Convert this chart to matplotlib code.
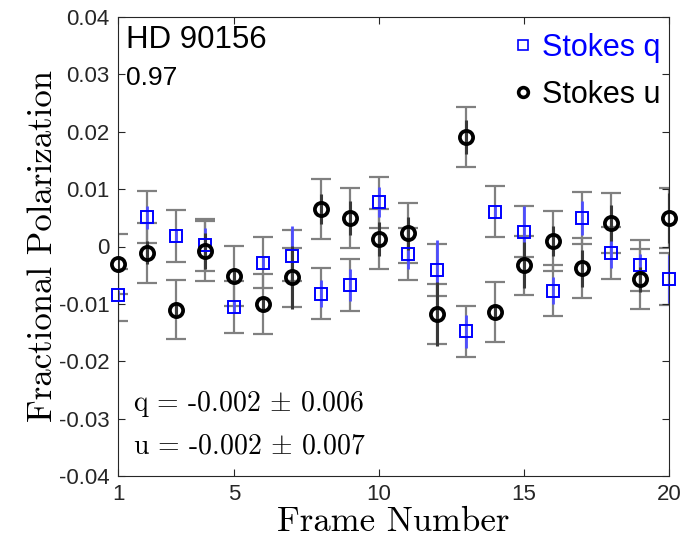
import matplotlib
matplotlib.use("Agg")
import matplotlib.pyplot as plt
from matplotlib.lines import Line2D

# ---- data ----
frames = list(range(1, 21))
q_vals = [-0.0085, 0.0051, 0.0018, 0.0003, -0.0105, -0.0028, -0.0016, -0.0082, -0.0067, 0.0077,
          -0.0013, -0.0041, -0.0148, 0.0061, 0.0026, -0.0077, 0.0050, -0.0011, -0.0033, -0.0057]
u_vals = [-0.0030, -0.0011, -0.0110, -0.0008, -0.0051, -0.0100, -0.0054, 0.0065, 0.0050, 0.0013,
          0.0023, -0.0118, 0.0191, -0.0114, -0.0033, 0.0010, -0.0038, 0.0041, -0.0057, 0.0050]
q_err_total = [0.0045] * 20
u_err_total = [0.0052] * 20
q_err_inner = [0.0010, 0.0020, 0.0010, 0.0029, 0.0010, 0.0010, 0.0052, 0.0023, 0.0028, 0.0026,
               0.0027, 0.0052, 0.0029, 0.0010, 0.0044, 0.0023, 0.0030, 0.0026, 0.0020, 0.0042]
u_err_inner = [0.0010, 0.0020, 0.0010, 0.0032, 0.0010, 0.0010, 0.0055, 0.0026, 0.0030, 0.0029,
               0.0029, 0.0056, 0.0030, 0.0010, 0.0040, 0.0026, 0.0032, 0.0032, 0.0022, 0.0044]
x_ticks = [1, 5, 10, 15, 20]
y_ticks = [-0.04, -0.03, -0.02, -0.01, 0, 0.01, 0.02, 0.03, 0.04]
y_ticklabels = ["-0.04", "-0.03", "-0.02", "-0.01", "0", "0.01", "0.02", "0.03", "0.04"]
star_name = "HD 90156"
fit_value = "0.97"
q_summary = r"q = -0.002 $\pm$ 0.006"
u_summary = r"u = -0.002 $\pm$ 0.007"

plt.rcParams['mathtext.fontset'] = 'cm'

fig = plt.figure(figsize=(6.85, 5.5), dpi=100)
ax = fig.add_axes([118/685, 1-476/550, (669-118)/685, (476-17)/550])

gray = (0.5, 0.5, 0.5)
# total (grey) error bars with caps
ax.errorbar(frames, q_vals, yerr=q_err_total, fmt='none', ecolor=gray, elinewidth=1.6,
            capsize=7, capthick=1.6, zorder=1)
ax.errorbar(frames, u_vals, yerr=u_err_total, fmt='none', ecolor=gray, elinewidth=1.6,
            capsize=7, capthick=1.6, zorder=1)
# inner error bars without caps
ax.errorbar(frames, q_vals, yerr=q_err_inner, fmt='none', ecolor=(0.3, 0.3, 1.0), elinewidth=2.0,
            capsize=0, zorder=2)
ax.errorbar(frames, u_vals, yerr=u_err_inner, fmt='none', ecolor=(0.22, 0.22, 0.22), elinewidth=2.2,
            capsize=0, zorder=2)
# markers
ax.plot(frames, q_vals, linestyle='none', marker='s', ms=9, mfc='none', mec='blue', mew=1.4,
        clip_on=False, zorder=3)
ax.plot(frames, u_vals, linestyle='none', marker='o', ms=9.5, mfc='none', mec='black', mew=2.7,
        clip_on=False, zorder=4)

ax.set_xlim(1, 20)
ax.set_ylim(-0.04, 0.04)
ax.set_xticks(x_ticks)
ax.set_xticklabels([str(t) for t in x_ticks])
ax.set_yticks(y_ticks)
ax.set_yticklabels(y_ticklabels)
ax.tick_params(direction='in', length=5, width=0.8, top=True, right=True,
               labelsize=16, colors=(0.15, 0.15, 0.15), pad=6)
for lab in ax.get_xticklabels() + ax.get_yticklabels():
    lab.set_fontfamily('Liberation Sans')
for sp in ax.spines.values():
    sp.set_color((0.15, 0.15, 0.15))
    sp.set_linewidth(0.8)

ax.set_xlabel("Frame Number", fontfamily='cmr10', fontsize=25, labelpad=1)
ax.set_ylabel("Fractional Polarization", fontfamily='cmr10', fontsize=25, labelpad=0)

ax.text(0.015, 0.983, star_name, transform=ax.transAxes, ha='left', va='top',
        fontfamily='Liberation Sans', fontsize=22.5)
ax.text(0.015, 0.893, fit_value, transform=ax.transAxes, ha='left', va='top',
        fontfamily='Liberation Sans', fontsize=19)
ax.text(0.028, 0.157, q_summary, transform=ax.transAxes, ha='left', va='center',
        fontfamily='cmr10', fontsize=20)
ax.text(0.028, 0.065, u_summary, transform=ax.transAxes, ha='left', va='center',
        fontfamily='cmr10', fontsize=20)

handles = [Line2D([], [], linestyle='none', marker='s', ms=7.5, mfc='none', mec='blue', mew=1.2),
           Line2D([], [], linestyle='none', marker='o', ms=7, mfc='none', mec='black', mew=2.6)]
leg = ax.legend(handles, ["Stokes q", "Stokes u"], loc='upper right', frameon=False,
                bbox_to_anchor=(1.0 + 5/551, 1.0 - 2/459),
                prop={'family': 'Liberation Sans', 'size': 22}, handlelength=0.6,
                handletextpad=0.3, labelspacing=0.56, borderaxespad=0.05,
                labelcolor=['blue', 'black'])

fig.savefig("out.png", dpi=100, facecolor='white')
